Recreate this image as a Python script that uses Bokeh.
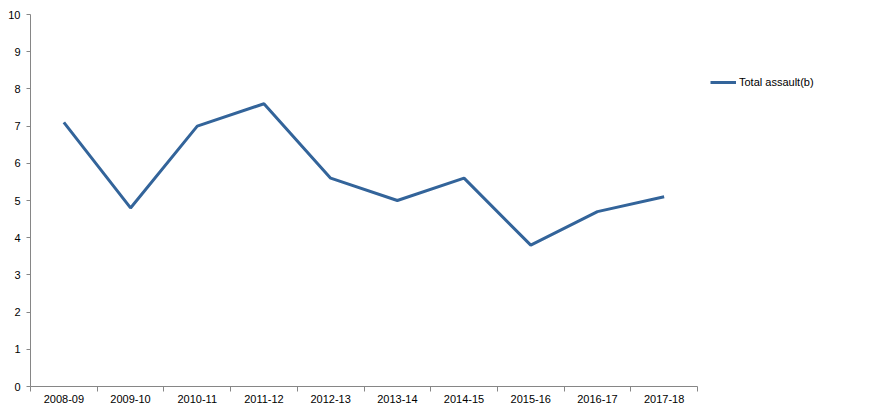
from bokeh.plotting import figure
from bokeh.models import ColumnDataSource, FixedTicker, Legend, LegendItem, Range1d
from bokeh.embed import file_html
from bokeh.resources import INLINE

years = ["2008-09", "2009-10", "2010-11", "2011-12", "2012-13",
         "2013-14", "2014-15", "2015-16", "2016-17", "2017-18"]
total_assault = [7.1, 4.8, 7.0, 7.6, 5.6, 5.0, 5.6, 3.8, 4.7, 5.1]
series_name = "Total assault(b)"
y_ticks = list(range(0, 11))

xpos = [i + 0.5 for i in range(len(years))]
src = ColumnDataSource(dict(x=xpos, y=total_assault))

W, H = 866, 410
left, right, top, bottom = 30, 6, 14, 24
frame_w = W - left - right
axis_w = 667  # pixel length of the category axis
x_end = len(years) * frame_w / axis_w

p = figure(width=W, height=H, output_backend="svg", toolbar_location=None,
           x_range=Range1d(0, x_end), y_range=Range1d(0, 10),
           min_border_left=left, min_border_right=right, min_border_top=top,
           min_border_bottom=bottom)
p.outline_line_color = None
p.xgrid.grid_line_color = None
p.ygrid.grid_line_color = None

r = p.line("x", "y", source=src, line_color="#33649A", line_width=3)

font = "Liberation Sans"
axis_col = "#868686"

xa = p.xaxis[0]
xa.bounds = (0, len(years))
xa.ticker = FixedTicker(ticks=xpos, minor_ticks=list(range(0, len(years) + 1)))
xa.major_label_overrides = {x: yr for x, yr in zip(xpos, years)}
xa.major_tick_out = 0
xa.major_tick_in = 0
xa.minor_tick_out = 5
xa.minor_tick_in = 0
xa.minor_tick_line_color = axis_col
xa.axis_line_color = axis_col
xa.major_label_text_font = font
xa.major_label_text_font_size = "11px"
xa.major_label_text_color = "#000000"
xa.major_label_standoff = 3

ya = p.yaxis[0]
ya.ticker = FixedTicker(ticks=y_ticks)
ya.major_tick_out = 4
ya.major_tick_in = 0
ya.minor_tick_line_color = None
ya.major_tick_line_color = axis_col
ya.axis_line_color = axis_col
ya.major_label_text_font = font
ya.major_label_text_font_size = "11px"
ya.major_label_text_color = "#000000"
ya.major_label_standoff = 6

legend = Legend(items=[LegendItem(label=series_name, renderers=[r])],
                location=(680, 294), padding=0, margin=0, spacing=0,
                border_line_alpha=0, background_fill_alpha=0,
                glyph_width=26, glyph_height=20, label_standoff=3,
                label_text_font=font, label_text_font_size="11px",
                label_text_color="#000000")
p.add_layout(legend, "center")

open("out.html", "w").write(file_html(p, INLINE))
